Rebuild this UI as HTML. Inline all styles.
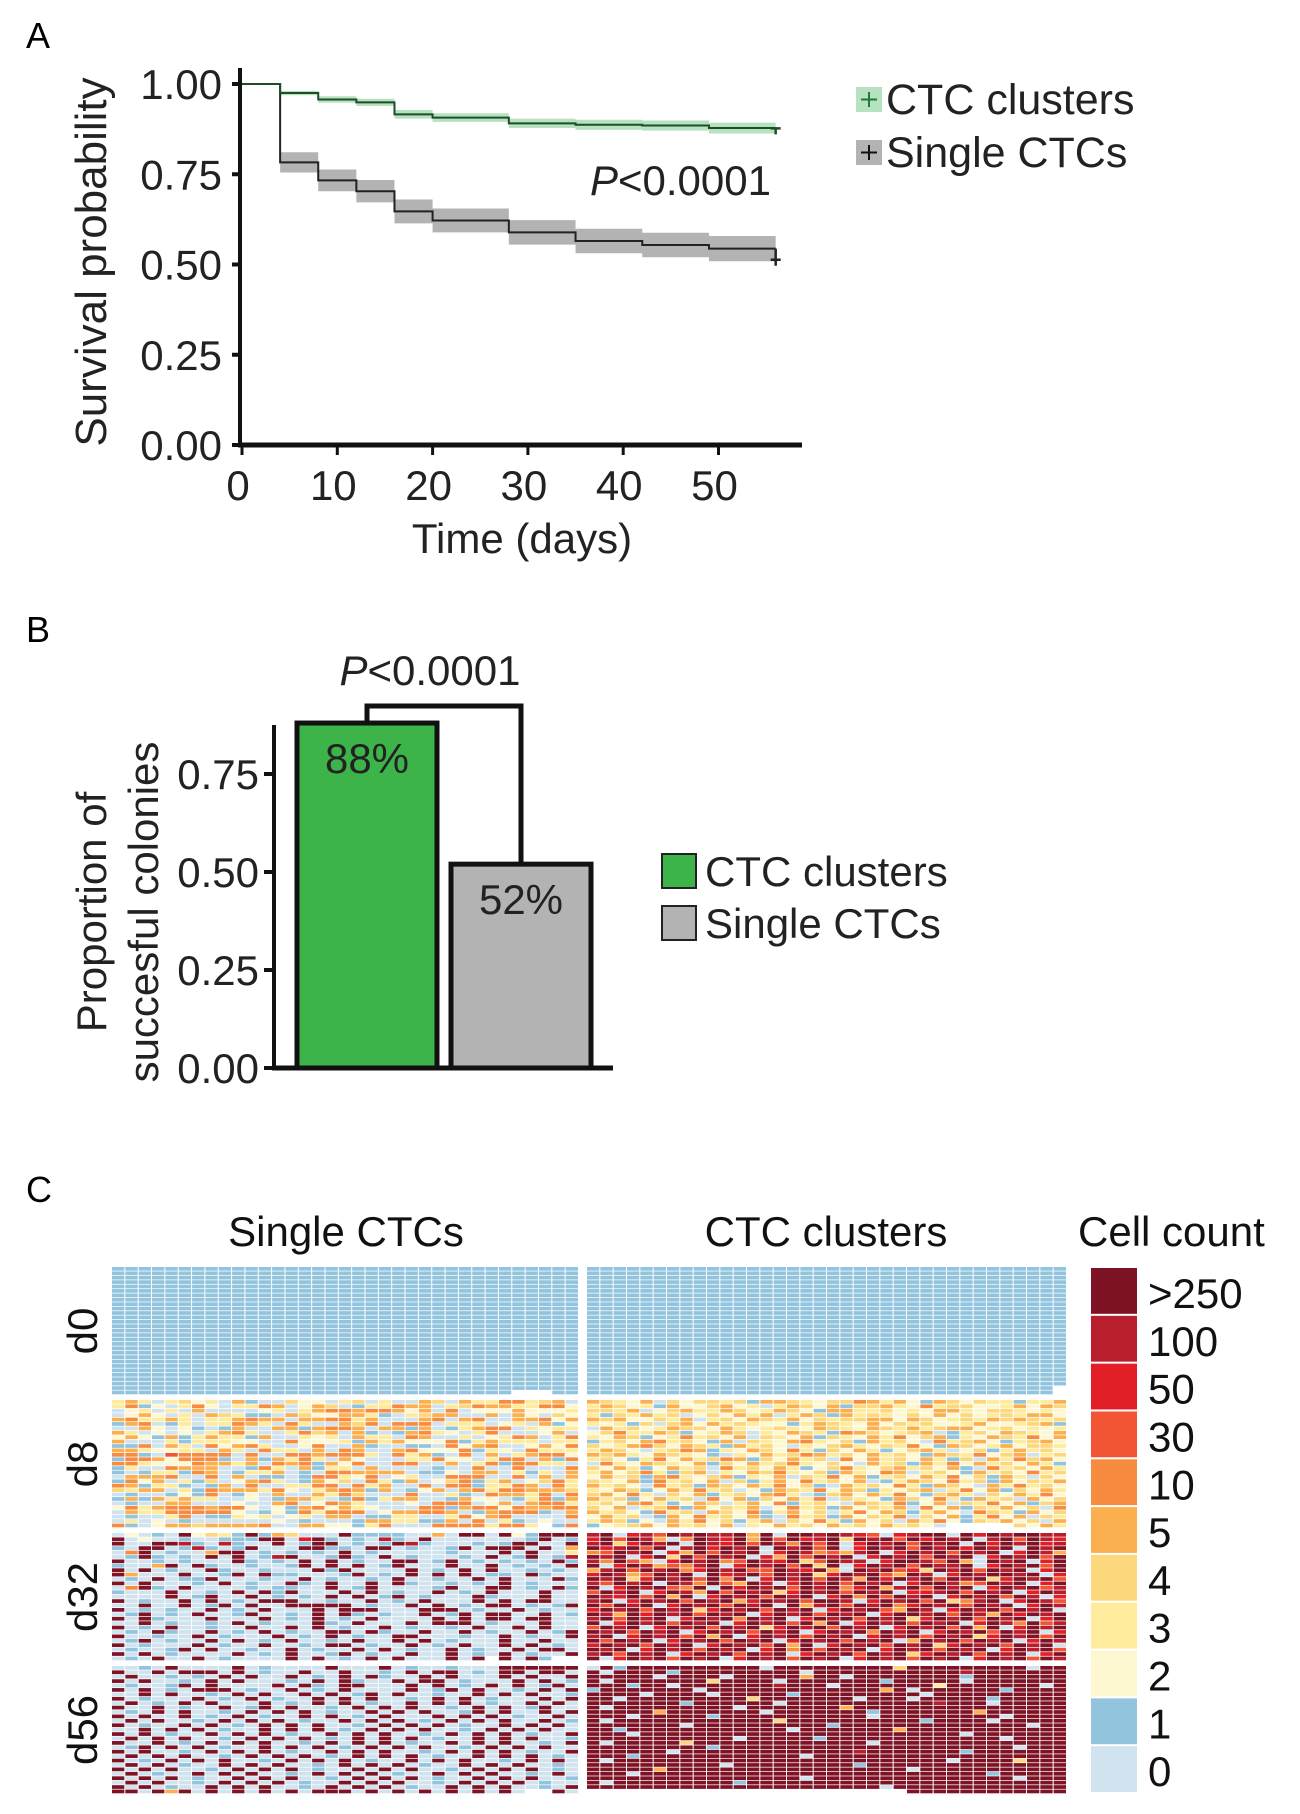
<!DOCTYPE html>
<html><head><meta charset="utf-8">
<style>
html,body{margin:0;padding:0;background:#fff;}
svg{display:block;font-family:"Liberation Sans",Arial,sans-serif;}
</style></head>
<body>
<svg id="fig" width="1300" height="1814" viewBox="0 0 1300 1814" xmlns="http://www.w3.org/2000/svg">
<text x="26" y="48" font-size="36">A</text>
<text x="26" y="642" font-size="36">B</text>
<text x="26" y="1202" font-size="36">C</text>
<g id="pa"></g>
<g id="pb"></g>
<g id="pc"></g>
</svg>
<script>
// ---------- Panel A data ----------
const kmTimes = [0, 4, 8, 12, 16, 20, 28, 35, 42, 49, 56];
const kmClusters = [1.0, 0.975, 0.957, 0.949, 0.916, 0.907, 0.891, 0.887, 0.885, 0.878, 0.878];
const kmClustersCI = [0, 0.006, 0.009, 0.010, 0.012, 0.012, 0.013, 0.014, 0.014, 0.015, 0.015];
const kmSingles = [1.0, 0.783, 0.733, 0.703, 0.647, 0.622, 0.589, 0.565, 0.554, 0.544, 0.544];
const kmSinglesCI = [0, 0.028, 0.030, 0.031, 0.033, 0.033, 0.034, 0.034, 0.034, 0.035, 0.035];
const kmYTicks = [0, 0.25, 0.5, 0.75, 1.0];
const kmYTickLabels = ["0.00", "0.25", "0.50", "0.75", "1.00"];
const kmXTicks = [0, 10, 20, 30, 40, 50];
// ---------- Panel B data ----------
const barCategories = ["CTC clusters", "Single CTCs"];
const barValues = [0.88, 0.52];
const barLabels = ["88%", "52%"];
const barYTicks = [0, 0.25, 0.5, 0.75];
const barYTickLabels = ["0.00", "0.25", "0.50", "0.75"];
// ---------- Panel C data ----------
const levelLabels = [">250", "100", "50", "30", "10", "5", "4", "3", "2", "1", "0"];
const levelCodes = ["X", "9", "8", "7", "6", "5", "4", "3", "2", "1", "0"];
const levelColors = ["#7f1326", "#b81e2c", "#e21f26", "#f15534", "#f78c40", "#fcaf4e", "#fdd77b", "#feeb9c", "#fdf8d2", "#92c4de", "#d0e3ee"];
const dayLabels = ["d0", "d8", "d32", "d56"];
const d0Rows = [
"11111111111111111111111111111111111|111111111111111111111111111111111111",
"11111111111111111111111111111111111|111111111111111111111111111111111111",
"11111111111111111111111111111111111|111111111111111111111111111111111111",
"11111111111111111111111111111111111|111111111111111111111111111111111111",
"11111111111111111111111111111111111|111111111111111111111111111111111111",
"11111111111111111111111111111111111|111111111111111111111111111111111111",
"11111111111111111111111111111111111|111111111111111111111111111111111111",
"11111111111111111111111111111111111|111111111111111111111111111111111111",
"11111111111111111111111111111111111|111111111111111111111111111111111111",
"11111111111111111111111111111111111|111111111111111111111111111111111111",
"11111111111111111111111111111111111|111111111111111111111111111111111111",
"11111111111111111111111111111111111|111111111111111111111111111111111111",
"11111111111111111111111111111111111|111111111111111111111111111111111111",
"11111111111111111111111111111111111|111111111111111111111111111111111111",
"11111111111111111111111111111111111|111111111111111111111111111111111111",
"11111111111111111111111111111111111|111111111111111111111111111111111111",
"11111111111111111111111111111111111|111111111111111111111111111111111111",
"11111111111111111111111111111111111|111111111111111111111111111111111111",
"11111111111111111111111111111111111|111111111111111111111111111111111111",
"11111111111111111111111111111111111|111111111111111111111111111111111111",
"11111111111111111111111111111111111|111111111111111111111111111111111111",
"11111111111111111111111111111111111|111111111111111111111111111111111111",
"11111111111111111111111111111111111|111111111111111111111111111111111111",
"11111111111111111111111111111111111|111111111111111111111111111111111111",
"11111111111111111111111111111111111|111111111111111111111111111111111111",
"11111111111111111111111111111111111|111111111111111111111111111111111111",
"11111111111111111111111111111111111|111111111111111111111111111111111111",
"11111111111111111111111111111111111|11111111111111111111111111111111111.",
"111111111111111111111111111111...11|11111111111111111111111111111111111."
];
const d8Rows = [
"35303423051004220340300540533663450|543250424434155432446535215424331335",
"36120362033650254013365503465533662|354231522452303542514453263442235254",
"02303050000230356656652506022252223|443502453354235421553342325532443232",
"02520305431105422553103455005052042|314353402425350354153432425242343552",
"56335303356550556635000560560055625|545224350342543524344552542343545434",
"15601303365306300546066603330230512|323140452534322135432524342235223451",
"00520210150055156650551501356603233|053423544253234325432543534552342323",
"53020203563003645051015632036000250|246335412354032543165423450134254325",
"25215135331500323053306500302365036|325412363425043251432536245132543625",
"50003133322006222315352226135333033|134256342150432563241534206345213452",
"11605306256300260051001106256002526|423564254315342032453243621542352443",
"55322330530633050650056222613206333|354203465132542631425312453024135342",
"66107666606006656663063510605035662|545325432103253465342534215436245034",
"16652666105153630520003362203660516|342136253465142534062534253140536452",
"66322265535065615260066005036166330|063254325142534632420534153625342531",
"13006555001630513305000010060060006|425312534063425312463245342510634253",
"10133165013350106655550112055031305|352463145032546324153265034215342634",
"05556006050110166326023006660060505|253415632451325043625134253624153042",
"16250314025630152406315024613502463|432516342504135263425013542634152435",
"65133101506003366063500606613365063|534206341542536241053426315420536342",
"43550316555362035651501250563665554|325412536340215436254132450362514253",
"01001216012050053640006003106553606|452630425134256301452536214530425362",
"15153533002015530161355001522013615|534125340625142536043215426315340524",
"01005500020056026530002066602505663|342563125403526134205436125043625145",
"26356665662021562532000661566265566|425034615243502634152435062514352406",
"05336666620121636660255665015666105|534216340542613524036254135206431524",
"01003601132302305501133003625600006|253401526342510634152436042513625043",
"03020100000020100015533115060310200|354120536241350426315240536214352405",
"61025545555600552213600066663663.16|123452534250325342534253420.....4253"
];
const d32Rows = [
"02010X2431X154000X11110050XX0X21XXX|9X0897X9X99X5X0XX9X987089XX0X8X9XX9",
"X0200100111XX08X1010910X00000001X01|8X7X9506X98X5X7X89X4X9X7X8X9X09X7X9",
"X00XX9109100X01XX0101X91000101XX00X|9X48X9X0X98X7X96X7X08X9X7X9X0X8X9X8",
"10XX019101X000XX110XX01001X0XXX0X05|X89X7X09X8X9X0X9X7X08X9X7X9X8X9X0X9X",
"06X01005XX0101010X01000001000X0X003|67X9X085X7X9X08X96759X08X9X7X9X08X95",
"01X1010X0X019X001X10X0100010X01X019|X9X08X4X7X9X085X7X9X08X9X7X9X08X9X7",
"X00101000X1010X0X0100XX01X0101010X1|96X7508X9X67X98X47X9908XX97X50X9X08X",
"1005X0X1001001X0X0X01X000X00X01010X|X08X95769X08X9X7X4X08X9X7X99X08X9X7X",
"X0X0100X1001000X1X0000X010X0X001010|59X7X9X68X9X77X98X50X9X784X9X7X9X08X",
"X5000X001X0X110001X010X0X0X0110X100|8X957X9X0X89X7X9X48X9X75X908X9XX9X0",
"010X011X000100X010010X00100X0X000X1|X9X48X9X7X6X08X9X7X95X8X9X7X9X48X9X7",
"X0X00010X0100X10X00X0X1001010X01000|97X9X0X96X75X908X9X7X9X08XX967X9X08X",
"06X10X0000101100X01X00001X00XX010X1|X08X9X76X0X8X9X7X9X68X59X7X9X08X9X79",
"1000X0010X0X1X000X0X0100X010X000X00|7X9X08X95X7X9X48X9X7X9X0889X7X9X08X9",
"0000X01X00X01010X0X01X01000X1000X00|X98X7X5X08X9X7X9X08X6X7X9X08X9X7X908",
"X0100X0X010XXX00100X010X000X0X0XX00|9X08X9X7X9X58X9X7XX908X9X7X469X08X97",
"00X00X01X0X00XXXXX0100X0X010XX0101X|X7X9X08X9X7X9X0X59X7X9X68X9X7X9X08X9",
"X010100X010X000X0XXX000XXX0100X0100|8X9X7X9X48X9X7X9X08X9X75X908X9X7X9X0",
"01X010X001X0010X0X10100X01X0XX00X01|X95X8X9X7X9X08X9X7X9X08XX9X7X95X8X9X",
"X0X1000X000X010X010X0000X0X0XX0XX00|9X7X9X08X9X6X9X08X9X7X9X48X9X7X9X08X",
"00X010010X01000X10X000X0XXX01000X00|X08X9X7X9X08X9X7X5X08X9X7X9X08X96X79",
"X010X00100X00X0X0100X010010X00X0X00|7X9X08X9X7X9X48X9X7X9X08X9X7X5X08X9X",
"010X100X010X0100XX0X100X00X0100X01X|X9X7X9X08X9X7X9X08X9X6X9X08X9X7X9X08",
"X00100X01000X010X0100XX000100X0100X|9X08X9X7X5X08X9X7X9X08X9X7X9X48X9X7X",
"01X0100X0X010X0010X00X0X01000X00X00|X7X9X08X9X7X9X08X9X7X9X05X9X7X9X08X9",
"X01000X0100X0010XX0100X010X00X0X010|8X9X7X9X08X9X7X5X08X9X7X9X48X9X7X9X0",
"01001X0X00100X0100X0X0100X0100X0XX0|X9X08X9X7X9X08X6X7X9X08X9X7X9X08X9X7",
"X0X010000X010X001X0100X00X010X0100X|9X7X9X08X9X7X9X08X9X7X9X48X9X7X9X08X",
"010X00X010000X0X010X0X000X0X.X0X1..|X08X9X7X9X08X9X7X9X08X9X7X9X08X9X7X9"
];
const d56Rows = [
"0010X0000X010000X000X01001000XXXXXX|0X1XXXXXXXXXX0XXXXXXXXX4XXXXXXXXX0XX",
"X00X0XXX0X0100X00X0010X0XX010XX0XX0|X0XXXX1XXXXXXXXX0XXXXXXXXXXX9XXXXXXX",
"0X001010X0X00X010X0X100X0X000X0X00X|XXXXX0XXXX0XXXXX5XX0XXXXXXXX1XXXXXXX",
"X0X0010X0X00010X0X100X0XX01000X0X01|X0XXXXXXX4XXXX0XXXXXXX1XXXXX0XXXXXXX",
"01001X0X0000X0X10XX000X0X010X0X01X0|XXX1XX0XXXXXXX9XXX0XXXXXXX3XXXXXXX0X",
"X0X010XXX0100X010X0000X01X0X0010X0X|1XXXXXXX0XXXXXXXXXXXXX5X0XXXXXX1XXXX",
"00X0X0010X0X00X0X01X0X00100X0X0X001|XXXX0XXXX0XXXXX1XXXXXXXXX0XXXXXXXXXX",
"X01000X010X0100X0X0X0010X0X01000X0X|XX0XXXXXXXXX4XXXXXXX0XXX0XXXXX1XXXXX",
"0X010X0X000X010X0X0100X0X0X0100X0X0|XXXXXXX1XXXXXX0XXXXXXXXXXX9XXX0XXXXX",
"X00X0100X01X0X0010X0X0X0010X0X01X00|X0XXXXXXXXX0XXXXXXX5XXXXXXXXXXXXXXXX",
"010X0X0010X0X0X0100X0X0X001X0X00X0X|XXXXX5XXXXXXX0XXXXXXX1XXXXXXX5XXXXXX",
"X0X00X010X0100X0X010X000X0X0X0100X0|XXX0XXXXX1XXXXXXXXXXX0XXXXXXXXX0XXXX",
"0X0X0010X0X0X0100X0X0X010X0X0X00X01|X0XXXXXXXXXXXX4XXXXXXXXXX1XXXX0XXXXX",
"X0100X0X010X0X0X0010X0X0X0100X0X0X0|XXXXXXX0XXXXXXXXXX1XXXXXXXXXXXXXX0XX",
"00X0X0X0100X0X0X010X0X0X0010X0X0X00|XX1XXXXXXXXXXXX0XXXXXXX5XXXXXXXXXXXX",
"X0X0100X0X0X0100X0X0X0010X0X0X0100X|XXX0XXXXXXXXXXXXXXXXXXXXXXXX0XXXXXXX",
"0X0X0X0010X0X0X010X0X0X0100X0X0X001|XXXXXXXXXXX0XXXXX1XXXXXXXXXXXXX0XXXX",
"X00X010X0X0X0010X0X0X0100X0X0X0010X|X0XXXXX4XXXXXXXXXXXXX0XXXXXXXXXXXXXX",
"01X0X0X0100X0X0X010X0X0X0010X0X0X00|XXXXXXXXX1XXXXXXXXXXXXXXXXXXXXXX0XXX",
"X0X0010X0X0X0100X0X0X0010X0X0X0100X|XXXXXX0XXXXXXXXXXXXX9XXXXXXX1XXXXXXX",
"0X0X0X0010X0X0X010X0X0X0100X0X0X010|XXX1XXXXXXXXXXXX0XXXXXXXXXXXXXXXXXXX",
"X010X0X0X0010X0X0X0100X0X0X0010X0X0|X0XXXXXXXXXXXXXXXXXXXXXXXXX0XXXX4XXX",
"0X0X0100X0X0X0010X0X0X0100X0X0X0010|XXXXXXXXXX0XXXXXXXXX1XXXXXXXXXXXXXXX",
"X0X0X0010X0X0X0100X0X0X0010X0X0X010|XXXXX5XXXXXXXXXXXXXXXXXX0XXXXXXXXXXX",
"0X0100X0X0X0010X0X0X0100X0X0X0010X0|XXX0XXXXXXXXXXXXXXXXXXXXXXXXXX1XXXXX",
"X0X0X0100X0X0X0010X0X0X0100X0X0X001|XXXXXXXXXXXXXXXX0XXXXXXXXXXXXXXX0XXX",
"0X0X0010X0X0X0100X0X0X0010X0X0X0100|X0XXXXXXXXX1XXXXXXXXXXXXXXXXXXXXXXXX",
"X0X0100X0X0X0010X0X0X0100X0X0X0010X|XXXXXXXXXXXXXXXXXXXXXX0XXXXXXXXXXXXX",
"XX0X5X0X0X0X0X0XXX0X0X0X0X0X0X0..X0|........................XXXXXXXXXXXX"
];

const NS = "http://www.w3.org/2000/svg";
function mk(parent, tag, attrs, text) {
  const e = document.createElementNS(NS, tag);
  for (const k in attrs) e.setAttribute(k, attrs[k]);
  if (text !== undefined) e.textContent = text;
  parent.appendChild(e);
  return e;
}

// ================= Panel A =================
(function () {
  const g = document.getElementById('pa');
  const x = t => 242 + t * 9.53;
  const y = p => 445 - p * 361;
  function stepPath(vals) {
    let d = `M${x(kmTimes[0])},${y(vals[0])}`;
    for (let i = 1; i < kmTimes.length; i++) d += ` H${x(kmTimes[i])} V${y(vals[i])}`;
    return d;
  }
  function band(vals, ci) {
    let top = [], bot = [];
    for (let i = 1; i < kmTimes.length - 1; i++) {
      top.push([x(kmTimes[i]), y(vals[i] + ci[i])], [x(kmTimes[i + 1]), y(vals[i] + ci[i])]);
      bot.push([x(kmTimes[i]), y(vals[i] - ci[i])], [x(kmTimes[i + 1]), y(vals[i] - ci[i])]);
    }
    bot.reverse();
    return 'M' + top.concat(bot).map(p => p.join(',')).join(' L') + ' Z';
  }
  const b1 = mk(g, 'path', { d: band(kmSingles, kmSinglesCI), fill: '#b3b3b3' });
  
  
  const b2 = mk(g, 'path', { d: band(kmClusters, kmClustersCI), fill: '#b7e2c0' });
  
  
  const l1 = mk(g, 'path', { d: stepPath(kmSingles), fill: 'none', stroke: '#222', 'stroke-width': 2 });
  
  
  const l2 = mk(g, 'path', { d: stepPath(kmClusters), fill: 'none', stroke: '#1e4d2b', 'stroke-width': 2 });
  
  
  const tEnd = kmTimes[kmTimes.length - 1];
  [[kmClusters, '#1e4d2b', 0.877], [kmSingles, '#222', 0.513]].forEach((s, i) => {
    const cx = x(tEnd), cy = y(s[2]);
    const c = mk(g, 'path', { d: `M${cx - 5},${cy} H${cx + 5} M${cx},${y(s[0][s[0].length - 1])} V${cy + 6}`, stroke: s[1], 'stroke-width': 2.5 });
    
    
  });
  const ya = mk(g, 'line', { x1: 240, y1: 68, x2: 240, y2: 447, stroke: '#111', 'stroke-width': 4 });
  
  
  const xa = mk(g, 'line', { x1: 238, y1: 445, x2: 802, y2: 445, stroke: '#111', 'stroke-width': 5 });
  
  
  kmYTicks.forEach((v, i) => {
    mk(g, 'line', { x1: 232, y1: y(v), x2: 240, y2: y(v), stroke: '#111', 'stroke-width': 4 });
    const t = mk(g, 'text', { x: 222, y: y(v) + 15, 'font-size': 42, 'text-anchor': 'end', fill: '#222' }, kmYTickLabels[i]);
    
    
  });
  kmXTicks.forEach(v => {
    mk(g, 'line', { x1: x(v), y1: 445, x2: x(v), y2: 455, stroke: '#111', 'stroke-width': 3 });
    const t = mk(g, 'text', { x: x(v) - 4, y: 500, 'font-size': 42, 'text-anchor': 'middle', fill: '#222' }, String(v));
    
    
  });
  const yt = mk(g, 'text', { x: 0, y: 0, 'font-size': 44, 'text-anchor': 'middle', transform: 'translate(106,262) rotate(-90)', fill: '#222' }, 'Survival probability');
  
  
  const xt = mk(g, 'text', { x: 522, y: 553, 'font-size': 42, 'text-anchor': 'middle', fill: '#222' }, 'Time (days)');
  
  
  const pv = mk(g, 'text', { x: 771, y: 195, 'font-size': 42, 'text-anchor': 'end', fill: '#222' });
  
  
  mk(pv, 'tspan', { 'font-style': 'italic' }, 'P');
  mk(pv, 'tspan', {}, '<0.0001');
  [['CTC clusters', '#b7e2c0', '#1e7a3a', 87], ['Single CTCs', '#b3b3b3', '#111', 140]].forEach((e, i) => {
    const lg = mk(g, 'g', {});
    
    
    mk(lg, 'rect', { x: 856, y: e[3], width: 26, height: 25, fill: e[1] });
    mk(lg, 'path', { d: `M861,${e[3] + 12.5} H877 M869,${e[3] + 5} V${e[3] + 20}`, stroke: e[2], 'stroke-width': 2 });
    mk(lg, 'text', { x: 886, y: e[3] + 27, 'font-size': 43, fill: '#222' }, e[0]);
  });
})();

// ================= Panel B =================
(function () {
  const g = document.getElementById('pb');
  const y = v => 1068 - v * 392;
  const barX = [297, 451], barW = 140;
  const fills = ['#3cb44a', '#b3b3b3'];
  barValues.forEach((v, i) => {
    const r = mk(g, 'rect', { x: barX[i], y: y(v), width: barW, height: 1068 - y(v), fill: fills[i], stroke: '#111', 'stroke-width': 5 });
    
    
    const t = mk(g, 'text', { x: barX[i] + barW / 2, y: y(v) + 50, 'font-size': 42, 'text-anchor': 'middle', fill: '#222' }, barLabels[i]);
    
    
  });
  const top = y(Math.max(...barValues)) - 17;
  const br = mk(g, 'path', { d: `M${barX[0] + barW / 2},${y(barValues[0])} V${top} H${barX[1] + barW / 2} V${y(barValues[1])}`, fill: 'none', stroke: '#111', 'stroke-width': 5 });
  
  
  const pv = mk(g, 'text', { x: 430, y: 685, 'font-size': 42, 'text-anchor': 'middle', fill: '#222' });
  
  
  mk(pv, 'tspan', { 'font-style': 'italic' }, 'P');
  mk(pv, 'tspan', {}, '<0.0001');
  const ya = mk(g, 'line', { x1: 274, y1: y(0.875), x2: 274, y2: 1070, stroke: '#111', 'stroke-width': 4 });
  
  
  const xa = mk(g, 'line', { x1: 272, y1: 1068, x2: 613, y2: 1068, stroke: '#111', 'stroke-width': 5 });
  
  
  barYTicks.forEach((v, i) => {
    mk(g, 'line', { x1: 264, y1: y(v), x2: 274, y2: y(v), stroke: '#111', 'stroke-width': 4 });
    const t = mk(g, 'text', { x: 259, y: y(v) + 15, 'font-size': 42, 'text-anchor': 'end', fill: '#222' }, barYTickLabels[i]);
    
    
  });
  const t1 = mk(g, 'text', { x: 0, y: 0, 'font-size': 42, 'text-anchor': 'middle', transform: 'translate(106,912) rotate(-90)', fill: '#222' }, 'Proportion of');
  
  
  const t2 = mk(g, 'text', { x: 0, y: 0, 'font-size': 42, 'text-anchor': 'middle', transform: 'translate(158,912) rotate(-90)', fill: '#222' }, 'succesful colonies');
  
  
  barCategories.forEach((c, i) => {
    const lg = mk(g, 'g', {});
    
    
    mk(lg, 'rect', { x: 662, y: 854 + i * 52, width: 34, height: 34, fill: fills[i], stroke: '#222', 'stroke-width': 2 });
    mk(lg, 'text', { x: 705, y: 886 + i * 52, 'font-size': 42, fill: '#222' }, c);
  });
})();

// ================= Panel C =================
(function () {
  const g = document.getElementById('pc');
  const groups = [d0Rows, d8Rows, d32Rows, d56Rows];
  const groupTop = [1267, 1400, 1533, 1666], groupH = 128;
  const colL = { x0: 112, x1: 579, n: 35 }, colR = { x0: 587, x1: 1067, n: 36 };
  const colorOf = {};
  levelCodes.forEach((c, i) => colorOf[c] = levelColors[i]);
  groups.forEach((rows, gi) => {
    const gg = mk(g, 'g', {});
    
    
    const nr = rows.length, rh = groupH / nr;
    rows.forEach((row, ri) => {
      const parts = row.split('|');
      [colL, colR].forEach((cs, si) => {
        const s = (parts[si] || '');
        const cw = (cs.x1 - cs.x0) / cs.n;
        for (let ci = 0; ci < cs.n; ci++) {
          const ch = s[ci] !== undefined ? s[ci] : (s.length ? s[ci % s.length] : '0');
          if (ch === '.') continue;
          const col = colorOf[ch] || levelColors[10];
          const r = mk(gg, 'rect', { x: (cs.x0 + ci * cw).toFixed(2), y: (groupTop[gi] + ri * rh).toFixed(2), width: (cw - 1).toFixed(2), height: (rh - 0.7).toFixed(2), fill: col });
          
          
        }
      });
    });
    const t = mk(g, 'text', { x: 0, y: 0, 'font-size': 42, 'text-anchor': 'middle', transform: `translate(97,${groupTop[gi] + groupH / 2}) rotate(-90)`, fill: '#111' }, dayLabels[gi]);
    
    
  });
  const h1 = mk(g, 'text', { x: 346, y: 1246, 'font-size': 42, 'text-anchor': 'middle', fill: '#111' }, 'Single CTCs');
  
  
  const h2 = mk(g, 'text', { x: 826, y: 1246, 'font-size': 42, 'text-anchor': 'middle', fill: '#111' }, 'CTC clusters');
  
  
  const lt = mk(g, 'text', { x: 1078, y: 1246, 'font-size': 42, fill: '#111' }, 'Cell count');
  
  
  const lh = (1794 - 1268) / levelLabels.length;
  levelLabels.forEach((lab, i) => {
    const lg = mk(g, 'g', {});
    
    
    mk(lg, 'rect', { x: 1091, y: 1268 + i * lh, width: 46, height: lh - 2, fill: levelColors[i] });
    mk(lg, 'text', { x: 1148, y: 1268 + i * lh + 40, 'font-size': 42, fill: '#111' }, lab);
  });
})();
</script>
</body></html>
